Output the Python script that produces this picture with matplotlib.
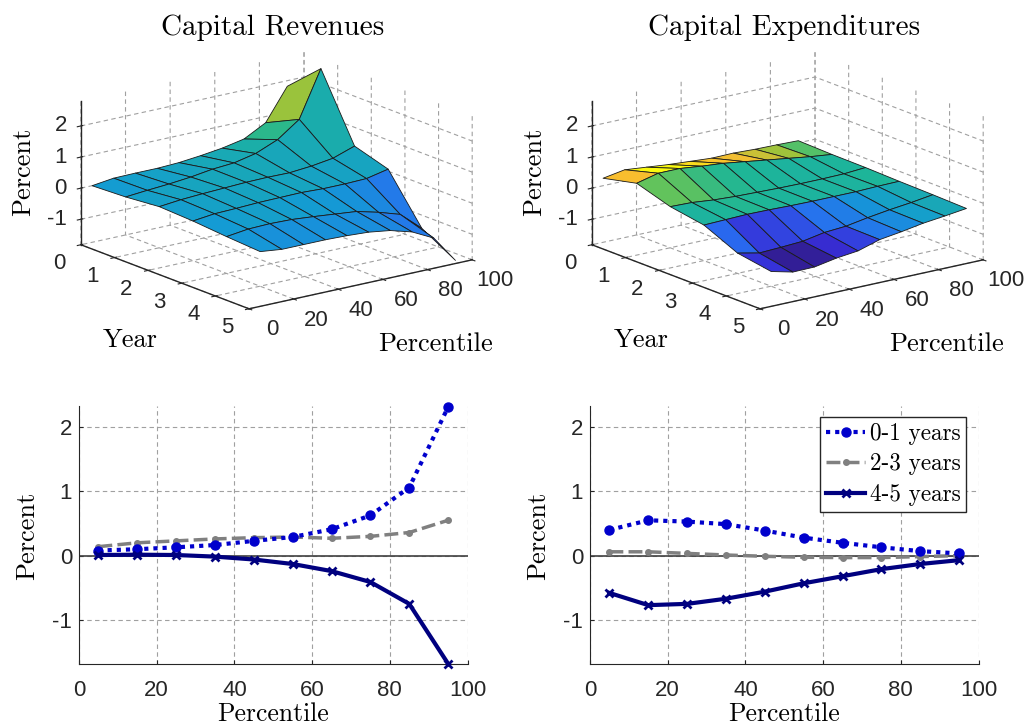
import numpy as np
import matplotlib
matplotlib.use('Agg')
import matplotlib.pyplot as plt
from matplotlib.colors import LinearSegmentedColormap, Normalize
from mpl_toolkits.mplot3d import proj3d

plt.rcParams['font.family'] = 'Liberation Sans'
plt.rcParams['axes.unicode_minus'] = False
plt.rcParams['grid.color'] = '#a0a0a0'
plt.rcParams['grid.linestyle'] = (0, (4, 3))
plt.rcParams['grid.linewidth'] = 0.8

# percentile groups, years
line_pct = [5, 15, 25, 35, 45, 55, 65, 75, 85, 95]
surf_pct = [5, 14.7, 24.4, 34.2, 43.9, 53.6, 63.3, 73.1, 82.8, 92.5]
years = [0, 1, 2, 3, 4, 5]

# capital revenues surface, one row per year
rev_y0 = [0.00, 0.09, 0.10, 0.10, 0.13, 0.20, 0.29, 0.43, 0.80, 1.82]
rev_y1 = [0.05, 0.11, 0.16, 0.23, 0.33, 0.38, 0.53, 0.82, 1.32, 2.80]
rev_y2 = [0.15, 0.22, 0.26, 0.29, 0.32, 0.33, 0.32, 0.38, 0.48, 0.72]
rev_y3 = [0.10, 0.18, 0.20, 0.23, 0.24, 0.25, 0.22, 0.22, 0.24, 0.39]
rev_y4 = [0.01, 0.10, 0.12, 0.10, 0.04, -0.03, -0.10, -0.28, -0.50, -1.10]
rev_y5 = [-0.06, -0.14, -0.14, -0.14, -0.16, -0.20, -0.30, -0.50, -0.85, -1.72]

# capital expenditures surface
exp_y0 = [0.24, 0.36, 0.29, 0.22, 0.17, 0.12, 0.13, 0.10, 0.09, 0.07]
exp_y1 = [0.49, 0.66, 0.66, 0.58, 0.52, 0.42, 0.32, 0.22, 0.12, 0.04]
exp_y2 = [0.15, 0.13, 0.06, 0.02, 0.00, -0.02, -0.03, -0.03, -0.02, 0.03]
exp_y3 = [-0.03, -0.01, 0.01, 0.00, -0.02, -0.03, -0.03, -0.03, -0.01, 0.00]
exp_y4 = [-0.52, -0.67, -0.64, -0.60, -0.47, -0.42, -0.30, -0.20, -0.12, -0.02]
exp_y5 = [-0.70, -0.87, -0.86, -0.73, -0.65, -0.44, -0.34, -0.22, -0.14, -0.05]

# lower panels
rev_01 = [0.08, 0.10, 0.13, 0.165, 0.23, 0.29, 0.41, 0.625, 1.06, 2.31]
rev_23 = [0.14, 0.20, 0.23, 0.26, 0.28, 0.29, 0.27, 0.30, 0.36, 0.55]
rev_45 = [0.01, 0.015, 0.01, -0.015, -0.06, -0.13, -0.24, -0.41, -0.75, -1.68]
exp_01 = [0.40, 0.55, 0.53, 0.49, 0.39, 0.28, 0.20, 0.13, 0.07, 0.035]
exp_23 = [0.06, 0.06, 0.035, 0.01, -0.01, -0.025, -0.03, -0.03, -0.015, 0.0]
exp_45 = [-0.58, -0.77, -0.75, -0.67, -0.56, -0.43, -0.32, -0.21, -0.13, -0.07]

pct_ticks = [0, 20, 40, 60, 80, 100]
z_ticks = [-1, 0, 1, 2]

W, H = 1032, 727
serif = 'cmr10'
ZMIN, ZMAX = -1.82, 2.8

stops = [(0, (50, 30, 150)), (.1, (55, 45, 215)), (.24, (40, 110, 240)),
         (.4, (20, 155, 212)), (.57, (30, 182, 150)), (.67, (100, 195, 90)),
         (.70, (150, 195, 60)), (.84, (240, 190, 50)), (.9, (250, 190, 45)), (1, (250, 250, 14))]
parula = LinearSegmentedColormap.from_list(
    'parula_like', [(s, tuple(v / 255 for v in c)) for s, c in stops])

fig = plt.figure(figsize=(W / 100, H / 100), dpi=100)


def tick_text(ax, x, y, z, txt, dx, dy, ha='center'):
    # tick labels of the 3d axes, placed from the projected tick position
    px, py, _ = proj3d.proj_transform(x, y, z, ax.get_proj())
    ax.annotate(txt, (px, py), xytext=(dx, dy), textcoords='offset pixels', ha=ha, va='center',
                fontsize=16, color='#262626', annotation_clip=False)


def surface(cx, cy, rows, vmin, vmax):
    # square axes centred on the box, sized for the MATLAB view
    size = 410
    ax = fig.add_axes([(cx - size / 2) / W, 1 - (cy + size / 2) / H, size / W, size / H],
                      projection='3d', proj_type='ortho')
    ax.patch.set_alpha(0)
    ax.view_init(elev=16.8, azim=-127.2)
    ax.set_box_aspect((280, 278, 150))
    ax.set_xlim(0, 100)
    ax.set_ylim(5, 0)
    ax.set_zlim(ZMIN, ZMAX)
    X, Y = np.meshgrid(surf_pct, years)
    Z = np.array(rows)
    colors = parula(Normalize(vmin, vmax)(Z))
    colors = np.vstack([colors[1:], colors[-1:]])
    ax.plot_surface(X, Y, Z, rstride=1, cstride=1, facecolors=colors, shade=False,
                    edgecolor='#1a1a1a', linewidth=0.6)
    ax.set_xticks(pct_ticks)
    ax.set_yticks(years)
    ax.set_zticks(z_ticks)
    ax.set_xticklabels([])
    ax.set_yticklabels([])
    ax.set_zticklabels([])
    for axis in (ax.xaxis, ax.yaxis, ax.zaxis):
        axis.set_pane_color((1, 1, 1, 0))
        axis.pane.set_edgecolor('none')
        axis.line.set_color('#262626')
        axis.line.set_linewidth(1.0)
    ax.tick_params(colors='#262626')
    for p in pct_ticks:
        tick_text(ax, p, 5, ZMIN, str(p), 23, -21)
    for yr in years:
        tick_text(ax, 0, yr, ZMIN, str(yr), -22, -19)
    for zt in z_ticks:
        tick_text(ax, 0, 0, zt, str(zt), -14, 0, ha='right')
    return ax


ax1 = surface(271, 186, [rev_y0, rev_y1, rev_y2, rev_y3, rev_y4, rev_y5], -1.72, 2.6)
ax2 = surface(782, 186, [exp_y0, exp_y1, exp_y2, exp_y3, exp_y4, exp_y5], -0.87, 0.66)


def lines(left, y01, y23, y45, legend=False):
    ax = fig.add_axes([left / W, 1 - 664.3 / H, 388.5 / W, 257.8 / H])
    ax.plot(line_pct, y01, color='#0000cc', ls=(0, (1, 1.2)), lw=3, marker='o', ms=6.5,
            label='0-1 years', clip_on=False, zorder=4)
    ax.plot(line_pct, y23, color='#808080', ls=(0, (4, 1.5)), lw=2.5, marker='o', ms=4,
            label='2-3 years', clip_on=False, zorder=3)
    ax.plot(line_pct, y45, color='#00007f', lw=3, marker='x', ms=6, mew=2,
            label='4-5 years', clip_on=False, zorder=5)
    ax.axhline(0, color='#404040', lw=1.2, zorder=2)
    ax.set_xlim(0, 100)
    ax.set_ylim(-1.69, 2.32)
    ax.set_xticks(pct_ticks)
    ax.set_yticks(z_ticks)
    ax.grid(True)
    ax.set_axisbelow(True)
    for side in ('top', 'right'):
        ax.spines[side].set_visible(False)
    for side in ('left', 'bottom'):
        ax.spines[side].set_color('#262626')
    ax.tick_params(direction='in', length=3, labelsize=16, colors='#262626')
    ax.tick_params(axis='x', pad=11)
    ax.tick_params(axis='y', pad=5)
    ax.set_xlabel('Percentile', family=serif, fontsize=18.5, labelpad=1.5)
    if legend:
        leg = ax.legend(loc='upper left', bbox_to_anchor=(0.592, 0.959), frameon=True, fancybox=False,
                        framealpha=1, edgecolor='#262626', prop={'family': serif, 'size': 16.7},
                        handlelength=1.7, handletextpad=0.2, borderpad=0.25, labelspacing=0.36,
                        borderaxespad=0)
        leg.get_frame().set_linewidth(1.0)
    return ax


ax3 = lines(79, rev_01, rev_23, rev_45)
ax4 = lines(590, exp_01, exp_23, exp_45, legend=True)

for x0 in (0, 511):
    fig.text((x0 + 23) / W, 1 - 172 / H, 'Percent', family=serif, fontsize=19, rotation=90,
             ha='center', va='center')
    fig.text((x0 + 130) / W, 1 - 340 / H, 'Year', family=serif, fontsize=19, ha='center', va='center')
    fig.text((x0 + 435) / W, 1 - 344 / H, 'Percentile', family=serif, fontsize=19, ha='center', va='center')
    fig.text((x0 + 27) / W, 1 - 536 / H, 'Percent', family=serif, fontsize=19, rotation=90,
             ha='center', va='center')

fig.text(273 / W, 1 - 28 / H, 'Capital Revenues', family=serif, fontsize=21, ha='center', va='center')
fig.text(784 / W, 1 - 28 / H, 'Capital Expenditures', family=serif, fontsize=21, ha='center', va='center')

fig.savefig('out.png', dpi=100)
